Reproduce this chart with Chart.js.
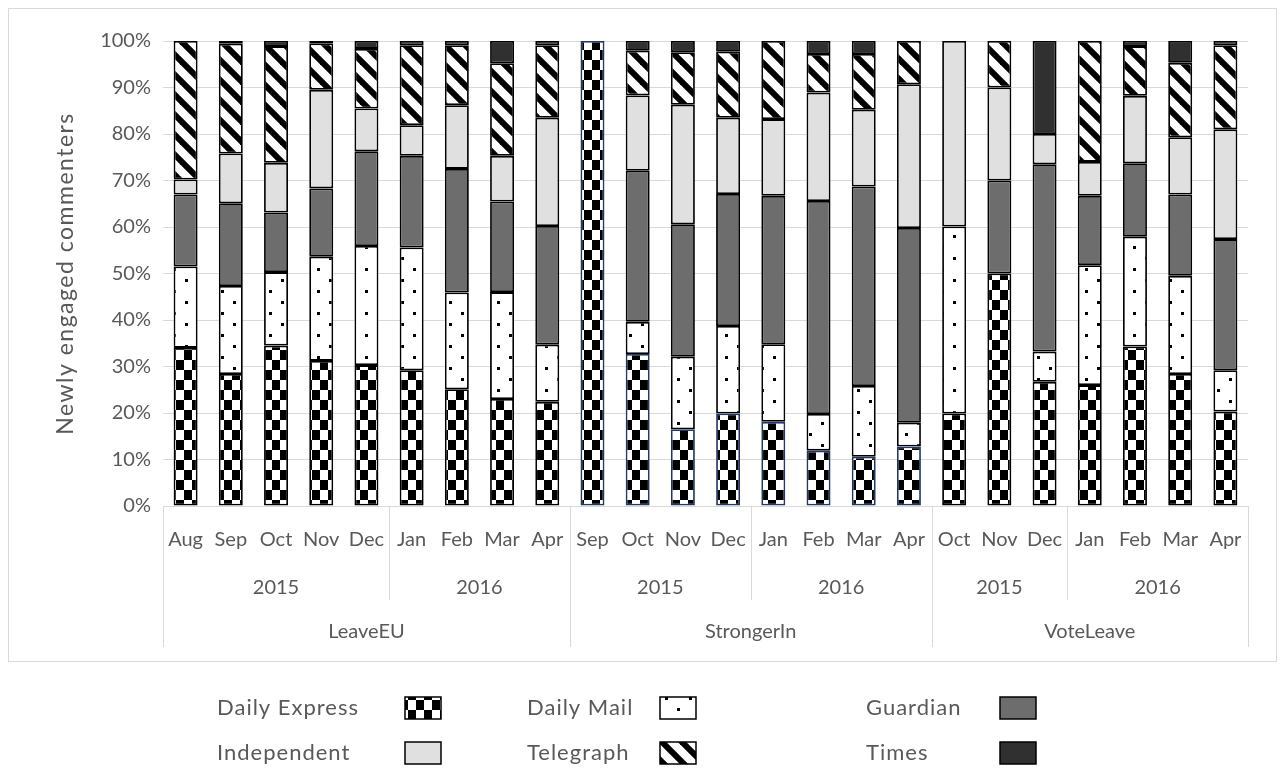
<!DOCTYPE html>
<html>
<head>
<meta charset="utf-8">
<script src="https://cdn.jsdelivr.net/npm/chart.js@4.4.1/dist/chart.umd.min.js"></script>
<style>
    html, body { margin: 0; padding: 0; background: #fff; }
    #wrap { width: 1285px; height: 778px; }
</style>
</head>
<body>
<div id="wrap"><canvas id="chart" width="1285" height="778"></canvas></div>
<script>
// categories (three levels: month / year / campaign)
const months = ['Aug', 'Sep', 'Oct', 'Nov', 'Dec', 'Jan', 'Feb', 'Mar', 'Apr',
    'Sep', 'Oct', 'Nov', 'Dec', 'Jan', 'Feb', 'Mar', 'Apr',
    'Oct', 'Nov', 'Dec', 'Jan', 'Feb', 'Mar', 'Apr'];
const yearLabels = ['2015', '2016', '2015', '2016', '2015', '2016'];
const yearSizes = [5, 4, 4, 4, 3, 4];
const groupLabels = ['LeaveEU', 'StrongerIn', 'VoteLeave'];
const groupSizes = [9, 8, 7];

// share of newly engaged commenters (%)
const dailyExpress = [34.0, 28.4, 34.5, 31.2, 30.3, 29.2, 25.1, 23.0, 22.4, 100, 32.7, 16.5, 19.9, 18.1, 11.9, 10.6, 12.8, 19.9, 50.0, 26.7, 26.0, 34.3, 28.4, 20.3];
const dailyMail = [17.5, 18.9, 15.8, 22.4, 25.6, 26.4, 20.8, 23.0, 12.3, 0, 6.9, 15.6, 18.8, 16.7, 7.9, 15.2, 5.1, 40.2, 0, 6.5, 25.8, 23.6, 21.1, 8.9];
const guardian = [15.5, 17.8, 12.8, 14.7, 20.4, 19.7, 26.6, 19.5, 25.5, 0, 32.5, 28.5, 28.4, 31.9, 45.8, 42.9, 41.9, 0, 20.0, 40.3, 14.9, 15.8, 17.5, 28.2];
const independent = [3.2, 10.7, 10.7, 21.2, 9.2, 6.6, 13.7, 9.8, 23.3, 0, 16.2, 25.7, 16.4, 16.5, 23.3, 16.5, 30.9, 39.9, 20.0, 6.5, 7.3, 14.5, 12.3, 23.6];
const telegraph = [29.8, 23.6, 25.1, 10.0, 12.8, 17.2, 12.9, 19.9, 15.6, 0, 9.6, 11.3, 14.2, 16.8, 8.3, 12.0, 9.3, 0, 10.0, 0, 26.0, 10.7, 16.0, 18.1];
const times = [0, 0.6, 1.1, 0.5, 1.7, 0.9, 0.9, 4.8, 0.9, 0, 2.1, 2.4, 2.3, 0, 2.8, 2.8, 0, 0, 0, 20.0, 0, 1.1, 4.7, 0.9];

const yTickValues = [0, 10, 20, 30, 40, 50, 60, 70, 80, 90, 100];

const TEXT = '#595959';
const LINE = '#d9d9d9';
const FONT = 'Lato';

function makeTile(w, h, draw) {
    const c = document.createElement('canvas');
    c.width = w;
    c.height = h;
    const g = c.getContext('2d');
    g.fillStyle = '#fff';
    g.fillRect(0, 0, w, h);
    draw(g, w, h);
    return c;
}

const canvas = document.getElementById('chart');
const ctx = canvas.getContext('2d');

const checkerFill = ctx.createPattern(makeTile(16, 20, g => {
    g.fillStyle = '#000';
    g.fillRect(0, 0, 8, 10);
    g.fillRect(8, 10, 8, 10);
}), 'repeat');

const dotsFill = ctx.createPattern(makeTile(24, 22, g => {
    g.fillStyle = '#000';
    g.fillRect(5, 4, 3, 3);
    g.fillRect(17, 15, 3, 3);
}), 'repeat');

const stripeFill = ctx.createPattern(makeTile(20, 20, (g, w, h) => {
    g.strokeStyle = '#000';
    g.lineWidth = 6;
    for (let k = -1; k <= 1; k++) {
        g.beginPath();
        g.moveTo(k * w - 3, -3);
        g.lineTo(k * w + w + 3, h + 3);
        g.stroke();
    }
}), 'repeat');

const fills = [checkerFill, dotsFill, '#6d6d6d', '#e0e0e0', stripeFill, '#303030'];
const seriesNames = ['Daily Express', 'Daily Mail', 'Guardian', 'Independent', 'Telegraph', 'Times'];
const seriesData = [dailyExpress, dailyMail, guardian, independent, telegraph, times];

// StrongerIn Daily Express bars carry a navy outline
const expressBorder = months.map((_, i) => (i >= 9 && i < 17) ? '#1f3864' : '#000');

const datasets = seriesData.map((data, i) => ({
    label: seriesNames[i],
    data: data,
    backgroundColor: fills[i],
    borderColor: i === 0 ? expressBorder : '#000',
    borderWidth: 1.8,
    borderSkipped: false,
    barPercentage: 0.53,
    categoryPercentage: 1.0
}));

const categoryAxisPlugin = {
    id: 'categoryAxis',
    afterDraw(chart) {
        const { ctx, scales: { x }, chartArea } = chart;
        const half = (x.getPixelForValue(1) - x.getPixelForValue(0)) / 2;
        const edge = i => i < months.length ? x.getPixelForValue(i) - half : x.getPixelForValue(i - 1) + half;
        const bottom = chartArea.bottom;

        ctx.save();
        ctx.strokeStyle = LINE;
        ctx.lineWidth = 1;
        ctx.fillStyle = TEXT;
        ctx.font = '20px ' + FONT;
        ctx.textAlign = 'center';
        ctx.textBaseline = 'middle';

        // year row
        let start = 0;
        yearSizes.forEach((n, i) => {
            const a = edge(start), b = edge(start + n);
            ctx.fillText(yearLabels[i], (a + b) / 2, bottom + 82);
            ctx.beginPath();
            ctx.moveTo(Math.round(b) + 0.5, bottom);
            ctx.lineTo(Math.round(b) + 0.5, bottom + 94);
            ctx.stroke();
            start += n;
        });

        // campaign row
        start = 0;
        ctx.beginPath();
        ctx.moveTo(Math.round(edge(0)) + 0.5, bottom);
        ctx.lineTo(Math.round(edge(0)) + 0.5, bottom + 141);
        ctx.stroke();
        groupSizes.forEach((n, i) => {
            const a = edge(start), b = edge(start + n);
            ctx.fillText(groupLabels[i], (a + b) / 2, bottom + 126);
            ctx.beginPath();
            ctx.moveTo(Math.round(b) + 0.5, bottom);
            ctx.lineTo(Math.round(b) + 0.5, bottom + 141);
            ctx.stroke();
            start += n;
        });

        // outer frame
        ctx.strokeRect(8.5, 8.5, 1268, 653);

        // y axis title
        ctx.save();
        ctx.translate(66, (chartArea.top + chartArea.bottom) / 2);
        ctx.rotate(-Math.PI / 2);
        ctx.font = '23px ' + FONT;
        ctx.letterSpacing = '1.5px';
        ctx.fillText('Newly engaged commenters', 0, 0);
        ctx.restore();

        // legend, label before swatch
        const textX = [217, 527, 866];
        const boxX = [405, 660, 1000];
        const rowY = [708, 753];
        ctx.textAlign = 'left';
        ctx.font = '22px ' + FONT;
        ctx.letterSpacing = '1px';
        seriesNames.forEach((name, i) => {
            const col = i % 3, row = Math.floor(i / 3);
            ctx.fillStyle = TEXT;
            ctx.fillText(name, textX[col], rowY[row]);
            ctx.fillStyle = fills[i];
            ctx.fillRect(boxX[col], rowY[row] - 11, 36, 22);
            ctx.strokeStyle = '#000';
            ctx.lineWidth = 1.5;
            ctx.strokeRect(boxX[col], rowY[row] - 11, 36, 22);
        });
        ctx.restore();
    }
};

new Chart(ctx, {
    type: 'bar',
    data: { labels: months, datasets },
    options: {
        responsive: false,
        animation: false,
        layout: { padding: { left: 8, top: 41, right: 37, bottom: 117 } },
        plugins: {
            legend: { display: false },
            tooltip: { enabled: false }
        },
        scales: {
            x: {
                stacked: true,
                grid: { display: false },
                border: { display: false },
                ticks: {
                    autoSkip: false,
                    maxRotation: 0,
                    padding: 14,
                    color: TEXT,
                    font: { family: FONT, size: 20 }
                },
                afterFit: scale => { scale.height = 155; }
            },
            y: {
                stacked: true,
                min: 0,
                max: 100,
                afterBuildTicks: scale => {
                    scale.ticks = yTickValues.map(v => ({ value: v }));
                },
                grid: { color: LINE, drawTicks: false },
                border: { display: false },
                ticks: {
                    padding: 12,
                    color: TEXT,
                    font: { family: FONT, size: 20 },
                    callback: v => v + '%'
                },
                afterFit: scale => { scale.width = 155; }
            }
        }
    },
    plugins: [categoryAxisPlugin]
});
</script>
</body>
</html>
